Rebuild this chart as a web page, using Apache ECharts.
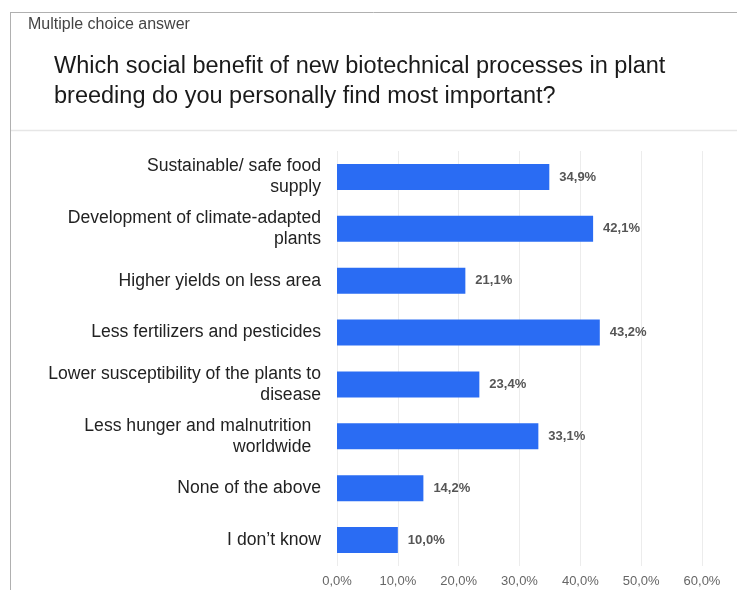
<!DOCTYPE html>
<html>
<head>
<meta charset="utf-8">
<script src="https://cdn.jsdelivr.net/npm/echarts@6/dist/echarts.min.js"></script>
<style>html,body{margin:0;padding:0;background:#fff;}#c{width:737px;height:590px;}</style>
</head>
<body>
<div id="c"></div>
<script>
var categories = [
  "Sustainable/ safe food\nsupply",
  "Development of climate-adapted\nplants",
  "Higher yields on less area",
  "Less fertilizers and pesticides",
  "Lower susceptibility of the plants to\ndisease",
  "Less hunger and malnutrition  \nworldwide  ",
  "None of the above",
  "I don\u2019t know"
];
var values = [34.9, 42.1, 21.1, 43.2, 23.4, 33.1, 14.2, 10.0];
var xTicks = [0, 10, 20, 30, 40, 50, 60];

function pct(v) { return v.toFixed(1).replace('.', ',') + '%'; }

var chart = echarts.init(document.getElementById('c'), null, {renderer: 'canvas'});
chart.setOption({
  animation: false,
  backgroundColor: '#fff',
  textStyle: {fontFamily: 'Liberation Sans, Arial, sans-serif'},
  graphic: [
    {type: 'line', shape: {x1: 10, y1: 12.5, x2: 737, y2: 12.5}, style: {stroke: '#b0b0b0', lineWidth: 1}},
    {type: 'line', shape: {x1: 10.5, y1: 12, x2: 10.5, y2: 590}, style: {stroke: '#b0b0b0', lineWidth: 1}},
    {type: 'line', shape: {x1: 11, y1: 130.5, x2: 737, y2: 130.5}, style: {stroke: '#e6e6e6', lineWidth: 1.5}},
    {type: 'text', left: 28, top: 17, style: {text: 'Multiple choice answer', font: '16px "Liberation Sans", Arial, sans-serif', fill: '#444'}},
    {type: 'text', left: 54, top: 52, style: {text: 'Which social benefit of new biotechnical processes in plant\nbreeding do you personally find most important?', font: '23.5px "Liberation Sans", Arial, sans-serif', fill: '#1a1a1a', lineHeight: 30}}
  ],
  grid: {left: 337, right: 35, top: 151, bottom: 24, containLabel: false},
  xAxis: {
    type: 'value', min: 0, max: 60, interval: 10,
    axisLine: {show: false}, axisTick: {show: false},
    splitLine: {show: true, lineStyle: {color: '#ececec', width: 1}},
    axisLabel: {
      margin: 9, fontSize: 13, color: '#666',
      formatter: function (v) { return xTicks.indexOf(v) >= 0 ? pct(v) : ''; }
    }
  },
  yAxis: {
    type: 'category', data: categories, inverse: true,
    axisLine: {show: false}, axisTick: {show: false},
    axisLabel: {margin: 16, fontSize: 17.6, color: '#222', lineHeight: 21, align: 'right'}
  },
  series: [{
    type: 'bar', data: values, barWidth: 26,
    itemStyle: {color: '#2a6cf3'},
    label: {
      show: true, position: 'right', distance: 10,
      fontSize: 13, fontWeight: 'bold', color: '#555',
      formatter: function (p) { return pct(p.value); }
    }
  }]
});
</script>
</body>
</html>
